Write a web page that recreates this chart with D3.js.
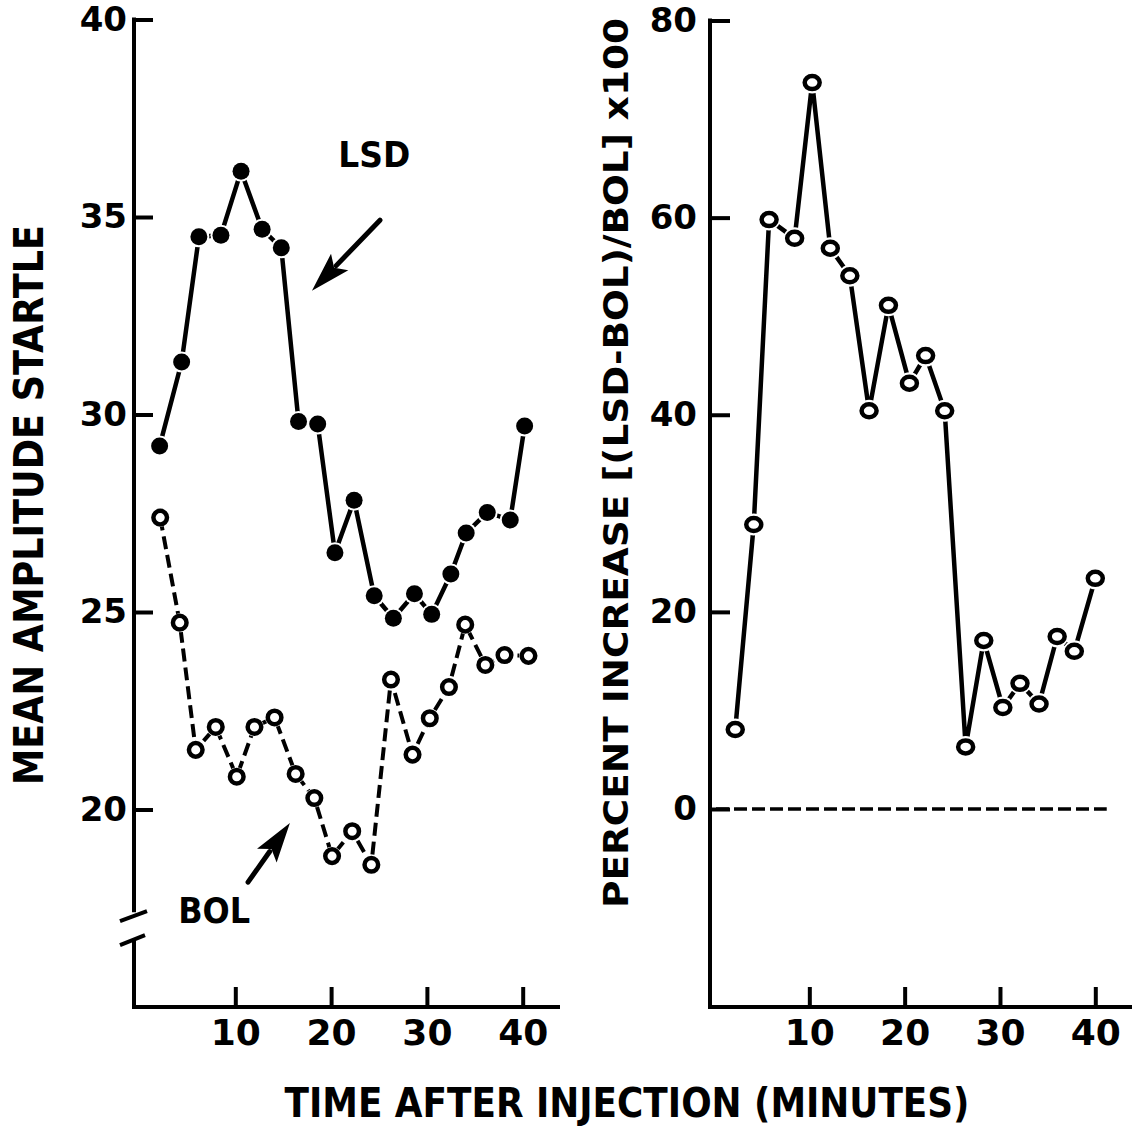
<!DOCTYPE html>
<html><head><meta charset="utf-8">
<script src="https://cdn.jsdelivr.net/npm/d3@7/dist/d3.min.js"></script>
<style>
html,body{margin:0;padding:0;background:#fff;}
svg{display:block;}
text{font-family:"DejaVu Sans",sans-serif;font-weight:bold;fill:#000;}
</style></head>
<body>
<svg id="chart" width="1132" height="1141"></svg>
<script>
// ---- data ----
const xTicks = [10, 20, 30, 40];
const leftYTicks = [20, 25, 30, 35, 40];
const rightYTicks = [0, 20, 40, 60, 80];

const lsdTimes = [2.1,4.4,6.2,8.5,10.6,12.8,14.8,16.6,18.6,20.4,22.4,24.5,26.5,28.7,30.5,32.5,34.1,36.3,38.7,40.2];
const lsdValues = [29.2,31.33,34.5,34.54,36.16,34.69,34.22,29.82,29.76,26.5,27.83,25.41,24.84,25.46,24.94,25.96,27.0,27.52,27.33,29.71];

const bolTimes = [2.16,4.2,5.87,7.96,10.15,12.0,14.1,16.3,18.25,20.1,22.2,24.2,26.25,28.5,30.3,32.3,34.0,36.1,38.1,40.6];
const bolValues = [27.39,24.73,21.51,22.09,20.83,22.09,22.33,20.90,20.29,18.82,19.45,18.60,23.29,21.39,22.31,23.10,24.68,23.66,23.91,23.89];

const pctTimes = [2.23,4.17,5.78,8.46,10.3,12.2,14.25,16.27,18.3,20.5,22.2,24.2,26.4,28.3,30.3,32.1,34.1,36.0,37.8,40.0];
const pctValues = [8.06,28.86,59.8,57.9,73.7,56.9,54.1,40.4,51.1,43.2,46.0,40.4,6.3,17.1,10.3,12.75,10.65,17.5,16.0,23.4];

const seriesLabels = ["LSD", "BOL"];
const yTitleLeft = "MEAN AMPLITUDE STARTLE";
const yTitleRight = "PERCENT INCREASE [(LSD-BOL)/BOL] x100";
const xTitle = "TIME AFTER INJECTION (MINUTES)";

// ---- layout ----
const svg = d3.select("#chart");
const axisY = 1007;
const xL = d3.scaleLinear().domain([0, 40]).range([139.5, 522.7]);
const yL = d3.scaleLinear().domain([20, 40]).range([809.5, 19.5]);
const xR = d3.scaleLinear().domain([0, 40]).range([714, 1095.3]);
const yR = d3.scaleLinear().domain([0, 80]).range([809, 20.5]);
const leftAxisX = 134, rightAxisX = 710;
const SW = 4;

function styleAxis(g, fs) {
  g.select(".domain").remove();
  g.selectAll(".tick line").attr("stroke", "#000").attr("stroke-width", SW);
  g.selectAll(".tick text").attr("font-size", fs).attr("fill", "#000")
    .style("font-family", '"DejaVu Sans",sans-serif').style("font-weight", "bold");
}

// ---------- LEFT PANEL ----------
const L = svg.append("g");
const breakV = 17.4;
L.append("line").attr("x1", leftAxisX).attr("x2", leftAxisX)
  .attr("y1", yL(40) - 2).attr("y2", yL(breakV)).attr("stroke", "#000").attr("stroke-width", SW);
L.append("line").attr("x1", leftAxisX - 14).attr("y1", yL(breakV) + 9)
  .attr("x2", leftAxisX + 13).attr("y2", yL(breakV) - 1).attr("stroke", "#000").attr("stroke-width", SW);
L.append("line").attr("x1", leftAxisX - 14).attr("y1", yL(breakV) + 33)
  .attr("x2", leftAxisX + 11).attr("y2", yL(breakV) + 23).attr("stroke", "#000").attr("stroke-width", SW);
L.append("line").attr("x1", leftAxisX).attr("x2", leftAxisX)
  .attr("y1", yL(breakV) + 27).attr("y2", axisY + 2).attr("stroke", "#000").attr("stroke-width", SW);
L.append("line").attr("x1", leftAxisX - 2).attr("x2", 560).attr("y1", axisY).attr("y2", axisY)
  .attr("stroke", "#000").attr("stroke-width", SW);

L.append("g").attr("transform", `translate(${leftAxisX},0)`)
  .call(d3.axisLeft(yL).tickValues(leftYTicks).tickSize(-19).tickPadding(7).tickFormat(d3.format("d")))
  .call(g => styleAxis(g, 34));
L.append("g").attr("transform", `translate(0,${axisY})`)
  .call(d3.axisBottom(xL).tickValues(xTicks).tickSize(-20).tickPadding(12).tickFormat(d3.format("d")))
  .call(g => styleAxis(g, 36));

const lsdData = lsdTimes.map((t, i) => ({t, v: lsdValues[i]}));
const bolData = bolTimes.map((t, i) => ({t, v: bolValues[i]}));

L.append("path").datum(lsdData)
  .attr("d", d3.line().x(d => xL(d.t)).y(d => yL(d.v)))
  .attr("fill", "none").attr("stroke", "#000").attr("stroke-width", 4.5).attr("stroke-linejoin", "round");
L.append("path").datum(bolData)
  .attr("d", d3.line().x(d => xL(d.t)).y(d => yL(d.v)))
  .attr("fill", "none").attr("stroke", "#000").attr("stroke-width", 4).attr("stroke-dasharray", "13,6");

L.selectAll(".lsdHalo").data(lsdData).join("circle")
  .attr("cx", d => xL(d.t)).attr("cy", d => yL(d.v)).attr("r", 10.5).attr("fill", "#fff");
L.selectAll(".lsdDot").data(lsdData).join("circle")
  .attr("cx", d => xL(d.t)).attr("cy", d => yL(d.v)).attr("r", 8.5).attr("fill", "#000");
L.selectAll(".bolHalo").data(bolData).join("circle")
  .attr("cx", d => xL(d.t)).attr("cy", d => yL(d.v)).attr("r", 9.5).attr("fill", "#fff");
L.selectAll(".bolDot").data(bolData).join("circle")
  .attr("cx", d => xL(d.t)).attr("cy", d => yL(d.v)).attr("r", 6.8)
  .attr("fill", "#fff").attr("stroke", "#000").attr("stroke-width", 4.5);

const annotations = [
  {label: seriesLabels[0], lt: 24.5, lv: 36.6, tail: [25.1, 34.92], tip: [18.0, 33.13]},
  {label: seriesLabels[1], lt: 7.8, lv: 17.45, tail: [11.33, 18.16], tip: [15.7, 19.66]}
];
annotations.forEach(a => {
  L.append("text").attr("x", xL(a.lt)).attr("y", yL(a.lv) + 13)
    .attr("text-anchor", "middle").attr("font-size", 36)
    .attr("textLength", 72).attr("lengthAdjust", "spacingAndGlyphs").text(a.label);
  const x1 = xL(a.tail[0]), y1 = yL(a.tail[1]), x2 = xL(a.tip[0]), y2 = yL(a.tip[1]);
  const dx = x2 - x1, dy = y2 - y1, len = Math.hypot(dx, dy);
  const ux = dx / len, uy = dy / len, px = -uy, py = ux;
  const hl = 40, hw = 12;
  const bx = x2 - ux * hl, by = y2 - uy * hl;
  L.append("line").attr("x1", x1).attr("y1", y1).attr("x2", bx + ux * 5).attr("y2", by + uy * 5)
    .attr("stroke", "#000").attr("stroke-width", 5).attr("stroke-linecap", "round");
  L.append("path").attr("d",
    `M${x2},${y2} L${bx + px * hw},${by + py * hw} L${bx + ux * 8},${by + uy * 8} L${bx - px * hw},${by - py * hw} Z`)
    .attr("fill", "#000");
});

svg.append("text").attr("transform", `translate(43,505) rotate(-90)`)
  .attr("text-anchor", "middle").attr("font-size", 41)
  .attr("textLength", 560).attr("lengthAdjust", "spacingAndGlyphs").text(yTitleLeft);

// ---------- RIGHT PANEL ----------
const R = svg.append("g");
R.append("line").attr("x1", rightAxisX).attr("x2", rightAxisX)
  .attr("y1", yR(80) - 2).attr("y2", axisY + 2).attr("stroke", "#000").attr("stroke-width", SW);
R.append("line").attr("x1", rightAxisX - 2).attr("x2", 1132).attr("y1", axisY).attr("y2", axisY)
  .attr("stroke", "#000").attr("stroke-width", SW);
R.append("g").attr("transform", `translate(${rightAxisX},0)`)
  .call(d3.axisLeft(yR).tickValues(rightYTicks).tickSize(-20).tickPadding(13).tickFormat(d3.format("d")))
  .call(g => styleAxis(g, 34));
R.append("g").attr("transform", `translate(0,${axisY})`)
  .call(d3.axisBottom(xR).tickValues(xTicks).tickSize(-20).tickPadding(12).tickFormat(d3.format("d")))
  .call(g => styleAxis(g, 36));

R.append("line").attr("x1", xR(0) + 2).attr("x2", xR(41.2)).attr("y1", yR(0)).attr("y2", yR(0))
  .attr("stroke", "#000").attr("stroke-width", 3.5).attr("stroke-dasharray", "13,5");

const pctData = pctTimes.map((t, i) => ({t, v: pctValues[i]}));
R.append("path").datum(pctData)
  .attr("d", d3.line().x(d => xR(d.t)).y(d => yR(d.v)))
  .attr("fill", "none").attr("stroke", "#000").attr("stroke-width", 4.5).attr("stroke-linejoin", "round");
R.selectAll(".pHalo").data(pctData).join("circle")
  .attr("cx", d => xR(d.t)).attr("cy", d => yR(d.v)).attr("r", 11).attr("fill", "#fff");
R.selectAll(".pDot").data(pctData).join("ellipse")
  .attr("cx", d => xR(d.t)).attr("cy", d => yR(d.v)).attr("rx", 7.5).attr("ry", 6.5)
  .attr("fill", "#fff").attr("stroke", "#000").attr("stroke-width", 4.5);

svg.append("text").attr("transform", `translate(628,463) rotate(-90)`)
  .attr("text-anchor", "middle").attr("font-size", 34)
  .attr("textLength", 890).attr("lengthAdjust", "spacingAndGlyphs").text(yTitleRight);

svg.append("text").attr("x", 627).attr("y", 1117)
  .attr("text-anchor", "middle").attr("font-size", 40)
  .attr("textLength", 685).attr("lengthAdjust", "spacingAndGlyphs").text(xTitle);
</script>
</body></html>
